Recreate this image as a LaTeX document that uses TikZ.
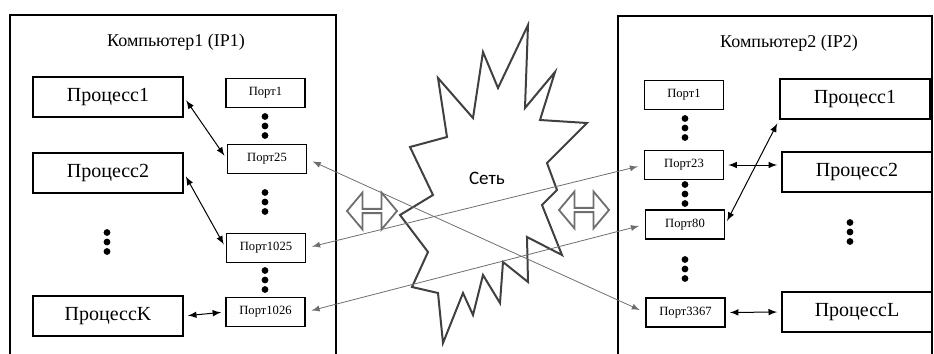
\documentclass[tikz,border=0pt]{standalone}
\usepackage{fontspec}
\setmainfont{Liberation Serif}
\newfontfamily\calibri{Carlito}
\usepackage{tikz}
\usetikzlibrary{arrows,shapes}
\definecolor{netgray}{RGB}{110,110,110}
\tikzstyle{proc} = [draw, line width=0.9pt, minimum width=75pt, minimum height=20pt, inner sep=0pt, font=\fontsize{10}{12}\selectfont]
\tikzstyle{port} = [draw, line width=0.8pt, minimum width=39.5pt, minimum height=14.5pt, inner sep=0pt, font=\fontsize{6.3}{7}\selectfont]
\tikzstyle{link} = [<->, >=latex, line width=0.5pt, shorten <=2pt, shorten >=2pt]
\tikzstyle{netlink} = [<->, >=latex, line width=0.4pt, color=netgray, shorten <=3pt, shorten >=3pt]
\tikzstyle{netflow} = [double arrow, draw=netgray, line width=0.9pt, minimum height=25pt, minimum width=18.5pt, double arrow head extend=3.5pt, double arrow tip angle=100, inner sep=0pt]

\begin{document}
\begin{tikzpicture}[x=0.5pt, y=-0.5pt]
\useasboundingbox (0,0) rectangle (934,354);

% Computer frames (open at the bottom)
\draw[line width=0.8pt] (10,354) -- (10,15) -- (336,15) -- (336,354);
\draw[line width=0.8pt] (618,354) -- (618,16) -- (932,16) -- (932,354);
\node[font=\fontsize{9}{11}\selectfont] (comp1) at (176,42) {Компьютер1 (IP1)};
\node[font=\fontsize{9}{11}\selectfont] (comp2) at (789,43) {Компьютер2 (IP2)};

% Network
\draw[line width=1pt, color=black!75, line join=miter]
  (528,25) -- (525,108) -- (555,72) -- (540,120) -- (587,123) -- (547,163)
  -- (557,190) -- (542,205) -- (562,255) -- (527,237) -- (528,282) -- (503,262)
  -- (500,303) -- (483,275) -- (473,315) -- (463,293) -- (443,343) -- (438,293)
  -- (412,287) -- (428,252) -- (400,215) -- (433,195) -- (410,147) -- (447,137)
  -- (438,78) -- (473,118) -- (483,52) -- (498,88) -- cycle;
\node[font=\calibri\fontsize{9.5}{11}\selectfont] (net) at (487,178) {Сеть};

\node[netflow] (flow1) at (372,211) {};
\node[netflow] (flow2) at (584,210) {};

% Computer 1
\node[proc] (lp1) at (108,97) {Процесс1};
\node[proc] (lp2) at (108,173) {Процесс2};
\node[proc] (lpk) at (108,316) {ПроцессK};

\node[port] (lpt1) at (265.5,93) {Порт1};
\node[port] (lpt25) at (267,159) {Порт25};
\node[port] (lpt1025) at (266,248) {Порт1025};
\node[port] (lpt1026) at (265.5,312) {Порт1026};

% Computer 2
\node[port] (rpt1) at (684,95) {Порт1};
\node[port] (rpt23) at (684,165) {Порт23};
\node[port] (rpt80) at (685,224.5) {Порт80};
\node[port] (rpt3367) at (685.5,312.5) {Порт3367};

\node[proc] (rp1) at (855,99) {Процесс1};
\node[proc] (rp2) at (857,172) {Процесс2};
\node[proc] (rpl) at (857,312) {ПроцессL};

% Dots
\foreach \x/\y in {265/126, 265/202, 265/280, 107/242, 685/128, 685/194, 685/269, 850/232}
  \foreach \d in {-9.5,0,9.5}
    \fill (\x,{\y+\d}) circle (1.7pt);

% Process - port links
\draw[link] (lp1.east) -- (lpt25.west);
\draw[link] (lp2.east) -- (lpt1025.west);
\draw[link] (lpk.east) -- (lpt1026.west);
\draw[link] (rpt23.east) -- (rpt23.east -| rp2.west);
\draw[link] (rpt80.east) -- (rp1.south west);
\draw[link] (rpt3367.east) -- (rpl.west);

% Connections over the network
\draw[netlink] (lpt25.east) -- (rpt3367.west);
\draw[netlink] (lpt1025.east) -- (rpt23.west);
\draw[netlink] (lpt1026.east) -- (rpt80.west);
\end{tikzpicture}
\end{document}
